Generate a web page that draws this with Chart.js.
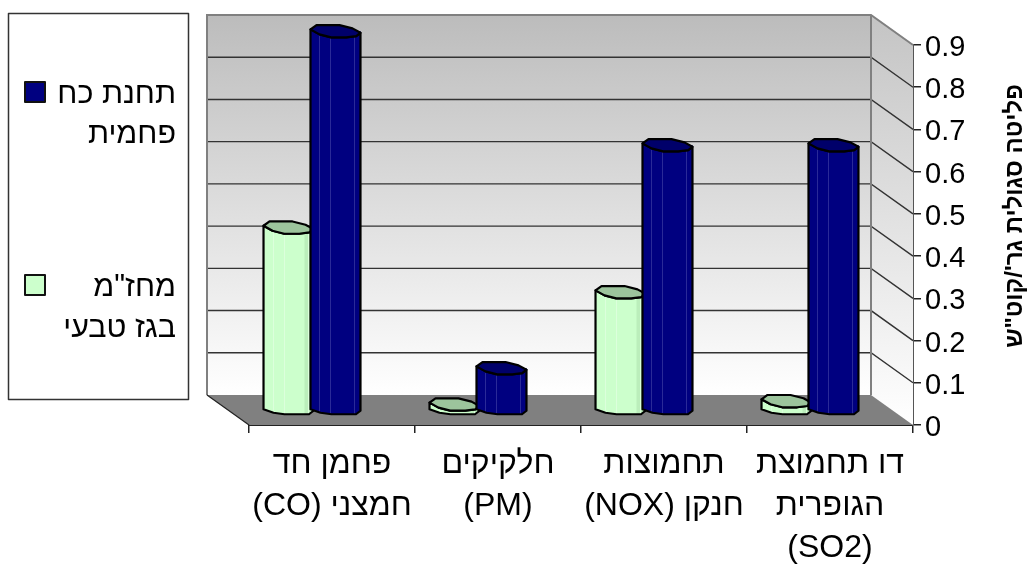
<!DOCTYPE html>
<html lang="he">
<head>
<meta charset="utf-8">
<title>פליטה סגולית</title>
<script src="https://cdn.jsdelivr.net/npm/chart.js@4"></script>
<style>
    html, body { margin: 0; padding: 0; background: #fff; }
    canvas { position: absolute; left: 0; top: 0; }
</style>
</head>
<body>
<canvas id="grafico" width="1028" height="566" dir="rtl"></canvas>
<script>
const categorias = [
    ['פחמן חד', 'חמצני (CO)'],
    ['חלקיקים', '(PM)'],
    ['תחמוצות', 'חנקן (NOX)'],
    ['דו תחמוצת', 'הגופרית', '(SO2)']
];
const valoresGas = [0.43, 0.011, 0.277, 0.019];
const valoresCarbon = [0.895, 0.097, 0.625, 0.625];
const etiquetaGas = ['מחז"מ', 'בגז טבעי'];
const etiquetaCarbon = ['תחנת כח', 'פחמית'];
const ticksY = ['0', '0.1', '0.2', '0.3', '0.4', '0.5', '0.6', '0.7', '0.8', '0.9'];
const tituloY = 'פליטה סגולית גר\'/קוט"ש';

const FUENTE = '"Liberation Sans", Arial, sans-serif';
// desplazamiento de la pared del fondo y de las barras respecto al plano frontal
const FONDO = { x: -42, y: -30 };
const MEDIO = { x: -20, y: -16 };

const capa = [[-25, -1.7], [-19, -6], [4, -6], [17, -2.7], [25, 1.7], [20.7, 5], [10.7, 6.3], [-4.3, 6.3], [-16, 3.3]];
const pie = [[-25, 1], [-15, 4.5], [-4, 6], [12, 6], [20.5, 6], [25, 2.5]];

const colorGas = { cuerpo: '#ccffcc', sombra: '#bbeebb', tapa: '#9cc49c', raya: '#dcffdc' };
const colorCarbon = { cuerpo: '#000080', sombra: '#000080', tapa: '#00006a', raya: '#2a2a98' };

function poligono(ctx, puntos) {
    ctx.beginPath();
    puntos.forEach((p, i) => i ? ctx.lineTo(p[0], p[1]) : ctx.moveTo(p[0], p[1]));
    ctx.closePath();
}

function dibujarCilindro(ctx, el, color) {
    const cx = el.x + MEDIO.x;
    const top = el.y + MEDIO.y;
    const base = el.base + MEDIO.y;
    const k = el.width / 50;
    const arriba = capa.map(p => [cx + p[0] * k, top + p[1]]);
    const abajo = pie.map(p => [cx + p[0] * k, base + p[1]]);

    const lados = [arriba[0], ...abajo, arriba[4], ...arriba.slice(5)];
    poligono(ctx, lados);
    ctx.fillStyle = color.cuerpo;
    ctx.fill();

    ctx.save();
    ctx.clip();
    ctx.fillStyle = color.sombra;
    ctx.fillRect(cx + 16 * k, top - 10, 10 * k, base - top + 20);
    ctx.strokeStyle = color.raya;
    ctx.lineWidth = 1;
    [-16, -5, 19].forEach(d => {
        ctx.beginPath();
        ctx.moveTo(Math.round(cx + d * k) + 0.5, top);
        ctx.lineTo(Math.round(cx + d * k) + 0.5, base + 8);
        ctx.stroke();
    });
    ctx.restore();

    ctx.strokeStyle = '#000';
    ctx.lineWidth = 2.2;
    ctx.lineJoin = 'round';
    poligono(ctx, lados);
    ctx.stroke();

    poligono(ctx, arriba);
    ctx.fillStyle = color.tapa;
    ctx.fill();
    ctx.stroke();
}

const planos = {
    id: 'planos',
    beforeDatasetsDraw(chart) {
        const { ctx, scales: { x, y } } = chart;
        const xi = x.left, xd = x.right;
        const y0 = y.getPixelForValue(0), yMax = y.getPixelForValue(0.9);
        const f = FONDO;
        ctx.save();

        const degradado = ctx.createLinearGradient(0, yMax + f.y, 0, y0 + f.y);
        degradado.addColorStop(0, '#bcbcbc');
        degradado.addColorStop(1, '#ffffff');
        ctx.fillStyle = degradado;
        ctx.fillRect(xi + f.x, yMax + f.y, xd - xi, y0 - yMax);

        const lateral = ctx.createLinearGradient(0, yMax + f.y, 0, y0);
        lateral.addColorStop(0, '#c4c4c4');
        lateral.addColorStop(1, '#ffffff');
        poligono(ctx, [[xd + f.x, yMax + f.y], [xd, yMax], [xd, y0], [xd + f.x, y0 + f.y]]);
        ctx.fillStyle = lateral;
        ctx.fill();

        poligono(ctx, [[xi + f.x, y0 + f.y], [xd + f.x, y0 + f.y], [xd, y0], [xi, y0]]);
        ctx.fillStyle = '#808080';
        ctx.fill();

        ctx.strokeStyle = '#333';
        ctx.lineWidth = 1.4;
        y.ticks.forEach(t => {
            if (t.value <= 0 || t.value >= 0.9) return;
            const yp = y.getPixelForValue(t.value);
            ctx.beginPath();
            ctx.moveTo(xi + f.x, yp + f.y);
            ctx.lineTo(xd + f.x, yp + f.y);
            ctx.lineTo(xd, yp);
            ctx.stroke();
        });

        ctx.strokeStyle = '#808080';
        ctx.lineWidth = 2;
        ctx.beginPath();
        ctx.moveTo(xi + f.x, y0 + f.y);
        ctx.lineTo(xi + f.x, yMax + f.y);
        ctx.lineTo(xd + f.x, yMax + f.y);
        ctx.lineTo(xd, yMax);
        ctx.moveTo(xd + f.x, yMax + f.y);
        ctx.lineTo(xd + f.x, y0 + f.y);
        ctx.stroke();

        ctx.strokeStyle = '#222';
        ctx.lineWidth = 1.2;
        ctx.beginPath();
        ctx.moveTo(xi + f.x, y0 + f.y);
        ctx.lineTo(xi, y0);
        ctx.stroke();
        ctx.restore();
    },
    // las barras quedan a media profundidad del suelo
    beforeDatasetDraw(chart) {
        chart.ctx.save();
        chart.ctx.translate(MEDIO.x, MEDIO.y);
    },
    afterDatasetDraw(chart) {
        chart.ctx.restore();
    },
    afterDatasetsDraw(chart) {
        const { ctx } = chart;
        [colorGas, colorCarbon].forEach((color, i) => {
            chart.getDatasetMeta(i).data.forEach(el => dibujarCilindro(ctx, el, color));
        });
    },
    afterDraw(chart) {
        const { ctx } = chart;
        ctx.save();
        ctx.strokeStyle = '#333';
        ctx.lineWidth = 1.5;
        ctx.strokeRect(8.5, 13.5, 180, 386);

        [[etiquetaCarbon, '#000080', 82, 95, 135], [etiquetaGas, '#ccffcc', 275, 288, 329]].forEach(item => {
            ctx.fillStyle = item[1];
            ctx.fillRect(25, item[2], 20, 20);
            ctx.strokeStyle = '#111';
            ctx.lineWidth = 2;
            ctx.strokeRect(25, item[2], 20, 20);
            ctx.fillStyle = '#000';
            ctx.font = '30.5px ' + FUENTE;
            ctx.direction = 'rtl';
            ctx.textAlign = 'right';
            ctx.textBaseline = 'middle';
            ctx.fillText(item[0][0], 176, item[3]);
            ctx.fillText(item[0][1], 176, item[4]);
        });

        ctx.translate(1015, 216);
        ctx.rotate(-Math.PI / 2);
        ctx.direction = 'rtl';
        ctx.textAlign = 'center';
        ctx.textBaseline = 'middle';
        ctx.font = 'bold 24px ' + FUENTE;
        ctx.fillStyle = '#000';
        ctx.fillText(tituloY, 0, 0);
        ctx.restore();
    }
};

new Chart(document.getElementById('grafico'), {
    type: 'bar',
    data: {
        labels: categorias,
        datasets: [
            { label: etiquetaGas.join(' '), data: valoresGas, backgroundColor: colorGas.cuerpo, clip: false },
            { label: etiquetaCarbon.join(' '), data: valoresCarbon, backgroundColor: colorCarbon.cuerpo, clip: false }
        ]
    },
    options: {
        responsive: false,
        animation: false,
        categoryPercentage: 0.566,
        barPercentage: 1.064,
        layout: { padding: { left: 249, top: 45, right: 0, bottom: 0 } },
        plugins: {
            legend: { display: false },
            tooltip: { enabled: false }
        },
        scales: {
            x: {
                afterFit(scale) { scale.height = 141; },
                grid: { drawOnChartArea: false, tickLength: 8, color: '#222', lineWidth: 1.5 },
                border: { color: '#222', width: 2 },
                ticks: {
                    color: '#000',
                    maxRotation: 0,
                    autoSkip: false,
                    padding: 10,
                    font: { family: FUENTE, size: 32, lineHeight: 1.31 }
                }
            },
            y: {
                position: 'right',
                min: 0,
                max: 0.9,
                afterFit(scale) { scale.width = 115; },
                grid: { drawOnChartArea: false, tickLength: 8, color: '#222', lineWidth: 1.5 },
                border: { color: '#555', width: 2 },
                ticks: {
                    stepSize: 0.1,
                    color: '#000',
                    padding: 4,
                    // linea vacia delante para bajar el texto 3px hasta la marca
                    font: { family: FUENTE, size: 29, lineHeight: 0.207 },
                    callback: (v, i) => ['', ticksY[i]]
                }
            }
        }
    },
    plugins: [planos]
});
</script>
</body>
</html>
